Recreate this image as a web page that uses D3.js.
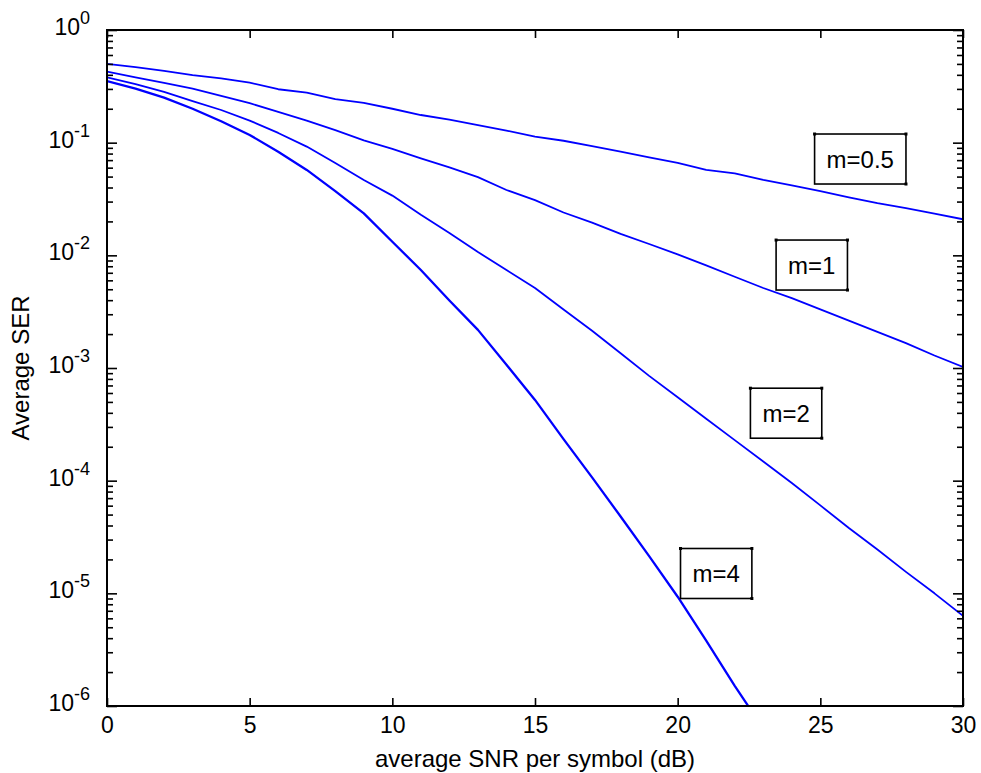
<!DOCTYPE html>
<html>
<head>
<meta charset="utf-8">
<script src="https://cdn.jsdelivr.net/npm/d3@7"></script>
<style>
  body { margin: 0; background: #fff; }
  svg text { font-family: "Liberation Sans", Arial, sans-serif; fill: #000; }
</style>
</head>
<body>
<div id="chart"></div>
<script>
// average SNR per symbol (dB)
const snrDb = [0, 1, 2, 3, 4, 5, 6, 7, 8, 9, 10, 11, 12, 13, 14, 15,
  16, 17, 18, 19, 20, 21, 22, 23, 24, 25, 26, 27, 28, 29, 30];

// average SER, one array per Nakagami m
const serM05 = [0.501, 0.468, 0.433, 0.398, 0.372, 0.341, 0.298, 0.278, 0.243, 0.226,
  0.200, 0.176, 0.160, 0.143, 0.128, 0.113, 0.104, 0.0933, 0.0832, 0.0741,
  0.0661, 0.0573, 0.0535, 0.0468, 0.0417, 0.0372, 0.0327, 0.0290, 0.0262, 0.0234, 0.0209];
const serM1 = [0.427, 0.380, 0.339, 0.302, 0.260, 0.224, 0.188, 0.157, 0.129, 0.105,
  0.0881, 0.0724, 0.0603, 0.0495, 0.0380, 0.0309, 0.0240, 0.0195, 0.0155, 0.0126,
  0.0102, 0.00813, 0.00646, 0.00513, 0.00417, 0.00331, 0.00263, 0.00209, 0.00166, 0.00129, 0.00102];
const serM2 = [0.380, 0.331, 0.282, 0.234, 0.195, 0.157, 0.122, 0.0923, 0.0661, 0.0467,
  0.0339, 0.0229, 0.0158, 0.0107, 0.00741, 0.00513, 0.00331, 0.00214, 0.00135, 8.51e-4,
  5.50e-4, 3.55e-4, 2.29e-4, 1.48e-4, 9.55e-5, 6.03e-5, 3.80e-5, 2.45e-5, 1.55e-5, 1.0e-5, 6.31e-6];
const serM4 = [0.352, 0.302, 0.251, 0.200, 0.155, 0.117, 0.0832, 0.0573, 0.0372, 0.0236,
  0.0132, 0.00741, 0.00398, 0.00218, 0.00107, 5.21e-4, 2.34e-4, 1.07e-4, 4.81e-5, 2.14e-5,
  9.33e-6, 3.80e-6, 1.51e-6, 6.31e-7];

// text boxes: label, and where its centre sits in data units
const curveLabels = ['m=0.5', 'm=1', 'm=2', 'm=4'];
const labelSnr = [26.4, 24.7, 23.8, 21.35];
const labelSer = [0.0716, 0.0082, 3.97e-4, 1.5e-5];

const xTicks = [0, 5, 10, 15, 20, 25, 30];
const yExponents = [0, -1, -2, -3, -4, -5, -6];

const width = 981;
const height = 773;
const margin = { top: 30, right: 18, bottom: 67, left: 107 };
const blue = '#0000ff';

const svg = d3.select('#chart').append('svg')
  .attr('width', width)
  .attr('height', height);

const x = d3.scaleLinear()
  .domain([0, 30])
  .range([margin.left, width - margin.right]);
const y = d3.scaleLog()
  .domain([1e-6, 1])
  .range([height - margin.bottom, margin.top]);

const majors = yExponents.map(e => Math.pow(10, e));
const minors = [];
yExponents.slice(1).forEach(e => {
  for (let k = 2; k <= 9; k++) minors.push(k * Math.pow(10, e));
});

svg.append('defs').append('clipPath').attr('id', 'plot')
  .append('rect')
  .attr('x', margin.left)
  .attr('y', margin.top)
  .attr('width', width - margin.left - margin.right)
  .attr('height', height - margin.top - margin.bottom);

// curves
const series = [serM05, serM1, serM2, serM4];
const line = d3.line()
  .x((d, i) => x(snrDb[i]))
  .y(d => y(d));

svg.append('g')
  .attr('clip-path', 'url(#plot)')
  .selectAll('path')
  .data(series)
  .join('path')
  .attr('fill', 'none')
  .attr('stroke', blue)
  .attr('stroke-width', (d, i) => i === 3 ? 2.3 : 1.8)
  .attr('stroke-linejoin', 'round')
  .attr('d', line);

// ticks, all pointing inward
function tidy(g) {
  g.select('.domain').remove();
  g.selectAll('.tick line').attr('stroke', '#000').attr('stroke-width', 1.6);
}

svg.append('g')
  .attr('transform', `translate(${margin.left},0)`)
  .call(d3.axisLeft(y).tickValues(majors).tickSize(-10).tickFormat(''))
  .call(tidy);
svg.append('g')
  .attr('transform', `translate(${margin.left},0)`)
  .call(d3.axisLeft(y).tickValues(minors).tickSize(-6).tickFormat(''))
  .call(tidy);
svg.append('g')
  .attr('transform', `translate(${width - margin.right},0)`)
  .call(d3.axisRight(y).tickValues(majors).tickSize(-10).tickFormat(''))
  .call(tidy);
svg.append('g')
  .attr('transform', `translate(${width - margin.right},0)`)
  .call(d3.axisRight(y).tickValues(minors).tickSize(-6).tickFormat(''))
  .call(tidy);

const xAxis = svg.append('g')
  .attr('transform', `translate(0,${height - margin.bottom})`)
  .call(d3.axisBottom(x).tickValues(xTicks).tickSize(-8).tickPadding(11))
  .call(tidy);
xAxis.selectAll('.tick text')
  .attr('font-size', 23)
  .attr('font-family', null);

svg.append('g')
  .attr('transform', `translate(0,${margin.top})`)
  .call(d3.axisTop(x).tickValues(xTicks).tickSize(-8).tickFormat(''))
  .call(tidy);

// frame
svg.append('rect')
  .attr('x', margin.left)
  .attr('y', margin.top)
  .attr('width', width - margin.left - margin.right)
  .attr('height', height - margin.top - margin.bottom)
  .attr('fill', 'none')
  .attr('stroke', '#000')
  .attr('stroke-width', 2);

// y tick labels as powers of ten
const yLabels = svg.append('g')
  .selectAll('text')
  .data(yExponents)
  .join('text')
  .attr('x', margin.left - 17)
  .attr('y', e => y(Math.pow(10, e)) + 5)
  .attr('text-anchor', 'end')
  .attr('font-size', 23);
yLabels.append('tspan').text('10');
yLabels.append('tspan')
  .attr('dy', -11)
  .attr('font-size', 18)
  .text(e => String(e));

// axis titles
svg.append('text')
  .attr('x', (margin.left + width - margin.right) / 2)
  .attr('y', 767)
  .attr('text-anchor', 'middle')
  .attr('font-size', 24)
  .text('average SNR per symbol (dB)');

svg.append('text')
  .attr('transform', `translate(29,${(margin.top + height - margin.bottom) / 2}) rotate(-90)`)
  .attr('text-anchor', 'middle')
  .attr('font-size', 24)
  .text('Average SER');

// boxed curve labels
const notes = svg.append('g')
  .selectAll('g')
  .data(curveLabels)
  .join('g')
  .attr('transform', (d, i) => `translate(${x(labelSnr[i])},${y(labelSer[i])})`);

notes.append('text')
  .attr('text-anchor', 'middle')
  .attr('dy', '0.36em')
  .attr('font-size', 24)
  .text(d => d);

notes.each(function() {
  const g = d3.select(this);
  const bb = g.select('text').node().getBBox();
  const w = bb.width + 24;
  const h = 50;
  g.insert('rect', 'text')
    .attr('x', -w / 2)
    .attr('y', -h / 2)
    .attr('width', w)
    .attr('height', h)
    .attr('fill', '#fff')
    .attr('stroke', '#000')
    .attr('stroke-width', 1.6);
  // little corner handles
  g.selectAll('rect.handle')
    .data([[-w / 2, -h / 2], [w / 2, -h / 2], [w / 2, h / 2]])
    .join('rect')
    .attr('class', 'handle')
    .attr('x', d => d[0] - 1.5)
    .attr('y', d => d[1] - 1.5)
    .attr('width', 3)
    .attr('height', 3)
    .attr('fill', '#000');
});
</script>
</body>
</html>
